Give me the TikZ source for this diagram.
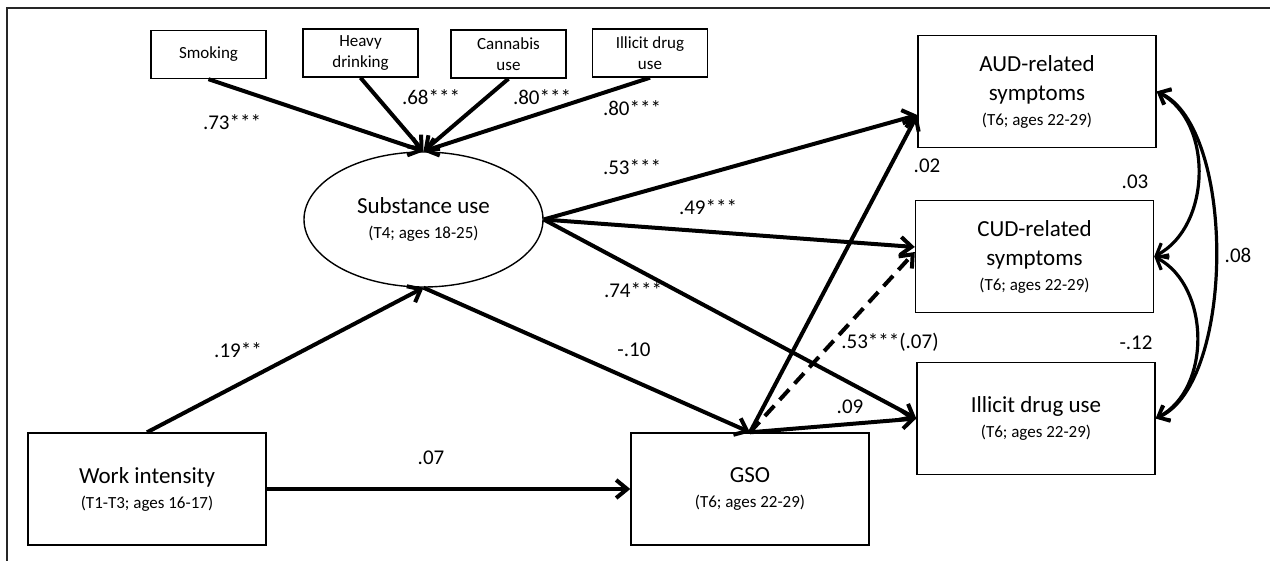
\documentclass[tikz,border=0pt]{standalone}
\usepackage{fontspec}
\setmainfont{Carlito}
\usetikzlibrary{positioning}
\usetikzlibrary{shapes.geometric}
\usetikzlibrary{arrows.meta}
\newcommand \bigtxt {\fontsize{11.5}{14.5}\selectfont}
\newcommand \smalltxt {\fontsize{8.5}{10.5}\selectfont}
\newcommand \coeftxt {\fontsize{10.5}{12.5}\selectfont}
\tikzset{
	indicator/.style={
		draw,
		line width=0.7pt,
		minimum width=57.5pt,
		minimum height=24pt,
		inner sep=1pt,
		align=center,
		font=\smalltxt
	},
	measure/.style={
		draw,
		line width=0.7pt,
		minimum width=119pt,
		minimum height=56pt,
		inner sep=1pt,
		align=center,
		font=\bigtxt
	},
	latent/.style={
		draw,
		ellipse,
		line width=0.7pt,
		minimum width=119.5pt,
		minimum height=67.5pt,
		inner sep=0pt,
		align=center,
		font=\bigtxt
	},
	coef/.style={font=\coeftxt, inner sep=0pt},
	effect/.style={line width=2pt, -{Straight Barb[length=5.5pt,width=9pt]}},
	covar/.style={
		line width=1.6pt,
		{Straight Barb[length=5pt,width=8.5pt]}-{Straight Barb[length=5pt,width=8.5pt]}
	},
	sem/.style={x=0.5pt, y=0.5pt}
}

\begin{document}
\begin{tikzpicture} [sem]
	\useasboundingbox (0,0) rectangle (1270,-561);
	\draw [line width=1pt, black!85] (7,-561) -- (7,-8) -- (1270,-8);

	\node [indicator] (smk) at (208.5,-54.5) {Smoking};
	\node [indicator] (hvy) at (360.5,-53) {Heavy\\drinking};
	\node [indicator] (can) at (508.5,-54) {Cannabis\\use};
	\node [indicator] (idu) at (650,-53) {Illicit drug\\use};

	\node [latent] (su) at (423.5,-219.5) {Substance use\\[-2pt]{\smalltxt (T4; ages 18-25)}};
	\node [measure] (work) at (147,-489) {Work intensity\\[-2pt]{\smalltxt (T1-T3; ages 16-17)}};
	\node [measure] (gso) at (750,-489) {GSO\\[-2pt]{\smalltxt (T6; ages 22-29)}};
	\node [measure] (aud) at (1037,-91.5) {AUD-related\\symptoms\\[-2pt]{\smalltxt (T6; ages 22-29)}};
	\node [measure] (cud) at (1034.5,-256.5) {CUD-related\\symptoms\\[-2pt]{\smalltxt (T6; ages 22-29)}};
	\node [measure] (ill) at (1036,-418.5) {Illicit drug use\\[-2pt]{\smalltxt (T6; ages 22-29)}};

	\draw [effect] (smk.south) -- (su.north);
	\draw [effect] (hvy.south) -- (su.north);
	\draw [effect] (can.south) -- (su.north);
	\draw [effect] (idu.south) -- (su.north);

	\draw [effect] (work.north) -- (su.south);
	\draw [effect] (su.south) -- (gso.north);
	\draw [effect] (work.east) -- (gso.west);

	\draw [effect] (su.east) -- ([yshift=-11.75pt]aud.west);
	\draw [effect] (su.east) -- ([yshift=4.75pt]cud.west);
	\draw [effect] (su.east) -- (ill.west);

	\draw [effect] (gso.north) -- ([yshift=-11.75pt]aud.west);
	\draw [effect, dash pattern=on 7pt off 4pt] (gso.north) -- ([yshift=2.25pt]cud.west);
	\draw [effect] (gso.north) -- (ill.west);

	\draw [covar] (aud.east) to [out=-28, in=28, looseness=1] (cud.east);
	\draw [covar] (cud.east) to [out=-28, in=28, looseness=1] (ill.east);
	\draw [covar] (aud.east) to [out=-24, in=24, looseness=0.68] (ill.east);

	\node [coef] (c73) at (232,-122) {.73***};
	\node [coef] (c68) at (431,-97) {.68***};
	\node [coef] (c80a) at (542,-97) {.80***};
	\node [coef] (c80b) at (632,-108) {.80***};
	\node [coef] (c53) at (632,-167) {.53***};
	\node [coef] (c49) at (708,-207) {.49***};
	\node [coef] (c74) at (633,-290) {.74***};
	\node [coef] (c19) at (238,-350) {.19**};
	\node [coef] (c10) at (634,-350) {-.10};
	\node [coef] (c07) at (431,-458) {.07};
	\node [coef] (c53b) at (890,-342) {.53***(.07)};
	\node [coef] (c09) at (850,-407) {.09};
	\node [coef] (c02) at (927,-166) {.02};
	\node [coef] (c03) at (1135,-182) {.03};
	\node [coef] (c12) at (1136,-343) {-.12};
	\node [coef] (c08) at (1238,-255) {.08};
\end{tikzpicture}
\end{document}
